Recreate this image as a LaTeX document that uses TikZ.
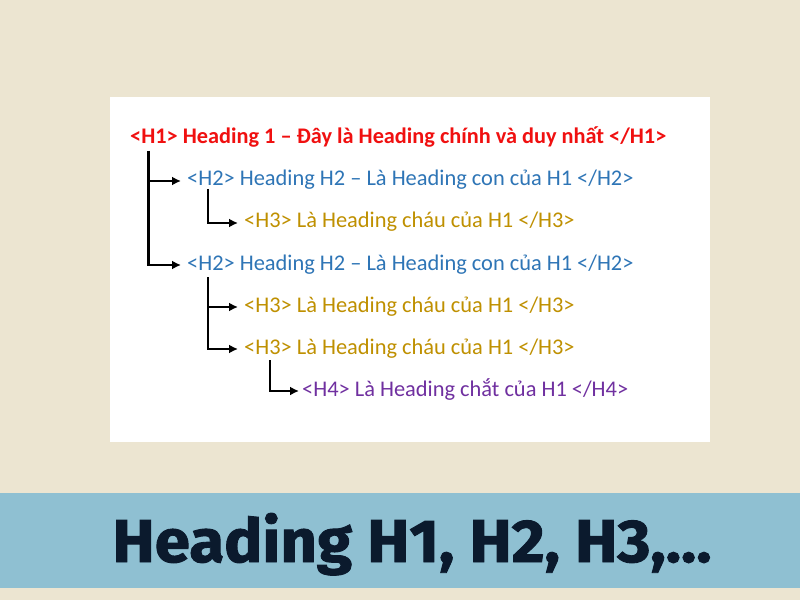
\documentclass[tikz,border=0pt]{standalone}
\usepackage{fontspec}
\setmainfont{Carlito}
\newfontfamily\titlefont[BoldFeatures={FakeBold=1.5}]{Fira Sans}
\usetikzlibrary{arrows.meta}
\definecolor{bgc}{HTML}{ECE5D1}
\definecolor{bandc}{HTML}{8FC0D2}
\definecolor{titlec}{HTML}{0B1A2D}
\definecolor{hred}{HTML}{F01010}
\definecolor{hblue}{HTML}{2E75B6}
\definecolor{hgold}{HTML}{BF9000}
\definecolor{hpurple}{HTML}{7030A0}
\tikzset{
  lbl/.style={anchor=base west, inner sep=0pt, text height=15bp, text depth=5bp, font=\fontsize{22.4bp}{26bp}\selectfont},
  hone/.style={lbl, text=hred, font=\fontsize{22.3bp}{26bp}\selectfont\bfseries},
  htwo/.style={lbl, text=hblue},
  hthree/.style={lbl, text=hgold},
  hfour/.style={lbl, text=hpurple},
  conn/.style={line width=2.3bp, black, -{Latex[length=9bp,width=9bp]}}
}
\begin{document}
\begin{tikzpicture}[x=1bp,y=-1bp]
\useasboundingbox (0,0) rectangle (800,600);
\fill[bgc] (0,0) rectangle (800,600);
\fill[white] (110,97) rectangle (710,442);
\fill[bandc] (0,493) rectangle (800,588);
\node[anchor=base, inner sep=0pt, text=titlec] (title) at (412,562)
  {\resizebox{599bp}{49bp}{\titlefont\bfseries Heading H1, H2, H3,...}};
\node[hone]   (h1)  at (130,144) {<H1> Heading 1 – Đây là Heading chính và duy nhất </H1>};
\node[htwo]   (h2a) at (187,186) {<H2> Heading H2 – Là Heading con của H1 </H2>};
\node[hthree] (h3a) at (244,228) {<H3> Là Heading cháu của H1 </H3>};
\node[htwo]   (h2b) at (187,270) {<H2> Heading H2 – Là Heading con của H1 </H2>};
\node[hthree] (h3b) at (244,312) {<H3> Là Heading cháu của H1 </H3>};
\node[hthree] (h3c) at (244,354) {<H3> Là Heading cháu của H1 </H3>};
\node[hfour]  (h4)  at (302,396) {<H4> Là Heading chắt của H1 </H4>};
\coordinate (r1) at ([xshift=18.5bp,yshift=-7bp]h1.base west);
\coordinate (r2a) at ([xshift=21bp,yshift=-3bp]h2a.base west);
\coordinate (r2b) at ([xshift=21bp,yshift=-7bp]h2b.base west);
\coordinate (r3c) at ([xshift=26bp,yshift=-6bp]h3c.base west);
\draw[conn] (r1) |- ([xshift=-6bp]h2a.west);
\draw[conn] (r1) |- ([xshift=-6bp]h2b.west);
\draw[conn] (r2a) |- ([xshift=-6bp]h3a.west);
\draw[conn] (r2b) |- ([xshift=-6bp]h3b.west);
\draw[conn] (r2b) |- ([xshift=-6bp]h3c.west);
\draw[conn] (r3c) |- ([xshift=-3bp]h4.west);
\end{tikzpicture}
\end{document}
